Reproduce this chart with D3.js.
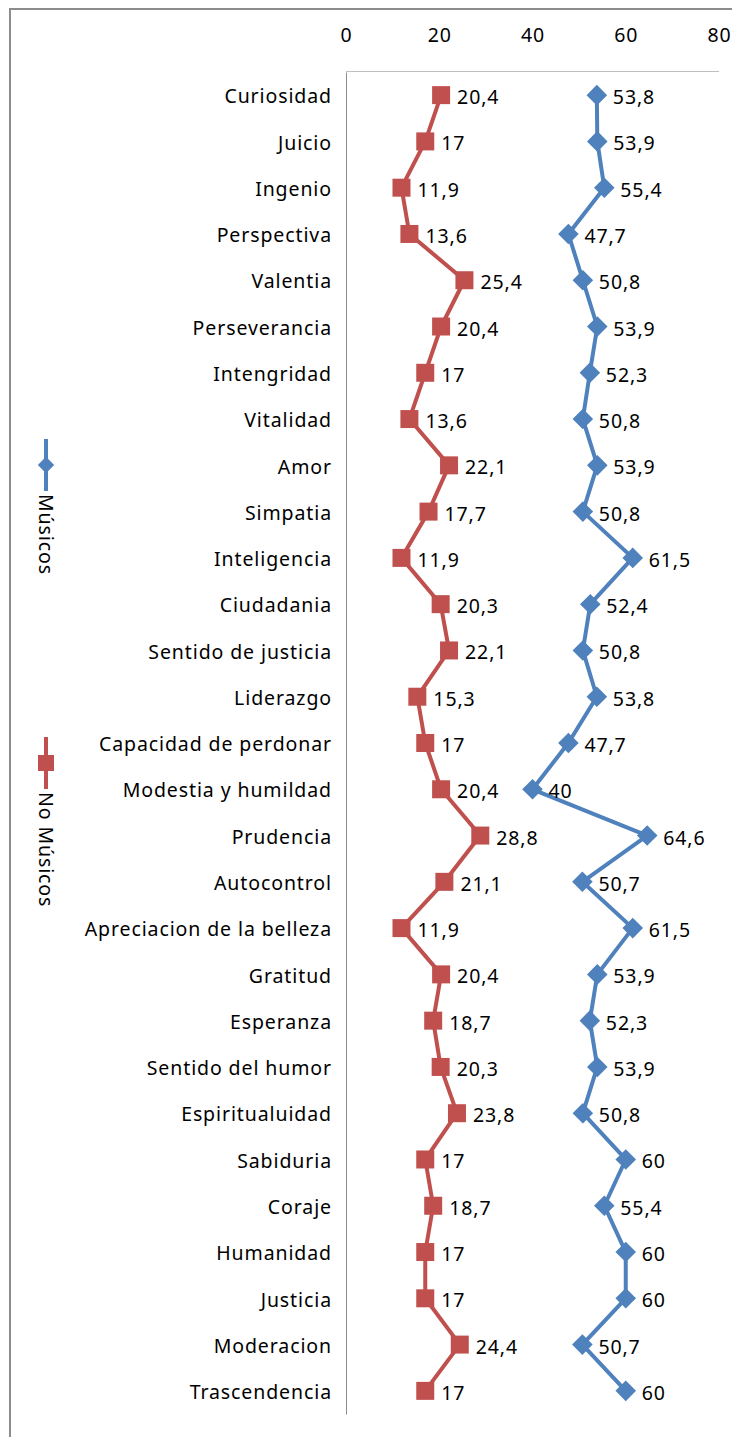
<!DOCTYPE html>
<html>
<head>
<meta charset="utf-8">
<script src="https://cdn.jsdelivr.net/npm/d3@7"></script>
<style>
  body { margin: 0; background: #fff; }
  svg { display: block; font-family: "Noto Sans", "Open Sans", sans-serif; }
</style>
</head>
<body>
<div id="chart"></div>
<script>
// ===== DATA =====
const categories = [
  "Curiosidad", "Juicio", "Ingenio", "Perspectiva", "Valentia", "Perseverancia",
  "Intengridad", "Vitalidad", "Amor", "Simpatia", "Inteligencia", "Ciudadania",
  "Sentido de justicia", "Liderazgo", "Capacidad de perdonar", "Modestia y humildad",
  "Prudencia", "Autocontrol", "Apreciacion de la belleza", "Gratitud", "Esperanza",
  "Sentido del humor", "Espiritualuidad", "Sabiduria", "Coraje", "Humanidad",
  "Justicia", "Moderacion", "Trascendencia"
];
const musicos = [
  53.8, 53.9, 55.4, 47.7, 50.8, 53.9, 52.3, 50.8, 53.9, 50.8, 61.5, 52.4, 50.8, 53.8,
  47.7, 40, 64.6, 50.7, 61.5, 53.9, 52.3, 53.9, 50.8, 60, 55.4, 60, 60, 50.7, 60
];
const noMusicos = [
  20.4, 17, 11.9, 13.6, 25.4, 20.4, 17, 13.6, 22.1, 17.7, 11.9, 20.3, 22.1, 15.3,
  17, 20.4, 28.8, 21.1, 11.9, 20.4, 18.7, 20.3, 23.8, 17, 18.7, 17, 17, 24.4, 17
];
const xTicks = [0, 20, 40, 60, 80];
const seriesNames = ["Músicos", "No Músicos"];

// ===== SETUP =====
const width = 732, height = 1437;
const blue = "#4F81BD", red = "#C0504D";
const fontSize = 19.5, spacing = "0.9px";
const fmt = v => String(v).replace(".", ",");

const svg = d3.select("#chart").append("svg")
  .attr("width", width)
  .attr("height", height);

// outer chart border (only top + left visible)
svg.append("path")
  .attr("d", "M10,1437 V9 H732")
  .attr("fill", "none")
  .attr("stroke", "#8c8c8c")
  .attr("stroke-width", 2);

const x = d3.scaleLinear().domain([0, 80]).range([346, 719]);
const y = d3.scaleBand().domain(categories).range([72, 1414]).padding(0);
const cy = c => y(c) + y.bandwidth() / 2;

// plot area top line
svg.append("line")
  .attr("x1", x(0)).attr("x2", x(80))
  .attr("y1", 71.5).attr("y2", 71.5)
  .attr("stroke", "#bfbfbf").attr("stroke-width", 1);

// top value axis
const xAxis = svg.append("g")
  .attr("transform", "translate(0,42)")
  .call(d3.axisTop(x).tickValues(xTicks).tickSize(0).tickPadding(0));
xAxis.select(".domain").remove();
xAxis.selectAll("text")
  .attr("font-size", fontSize)
  .attr("font-family", "Noto Sans")
  .attr("letter-spacing", spacing)
  .attr("fill", "#000");

// left category axis
const yAxis = svg.append("g")
  .attr("transform", `translate(${x(0)},0)`)
  .call(d3.axisLeft(y).tickSize(0).tickPadding(14));
yAxis.select(".domain")
  .attr("stroke", "#8c8c8c");
yAxis.selectAll("text")
  .attr("font-size", fontSize)
  .attr("font-family", "Noto Sans")
  .attr("letter-spacing", spacing)
  .attr("dy", "0.42em")
  .attr("fill", "#000");

// ===== SERIES =====
const line = d3.line()
  .x(d => x(d.v))
  .y(d => cy(d.c));

const markerSize = shape => shape === d3.symbolSquare ? 324 : 270;

function drawSeries(values, color, shape) {
  const pts = values.map((v, i) => ({ v, c: categories[i] }));

  svg.append("path")
    .datum(pts)
    .attr("d", line)
    .attr("fill", "none")
    .attr("stroke", color)
    .attr("stroke-width", 4)
    .attr("stroke-linejoin", "round");

  const sym = d3.symbol().type(shape).size(markerSize(shape));
  svg.selectAll(null)
    .data(pts)
    .enter()
    .append("path")
    .attr("d", sym)
    .attr("transform", d => `translate(${x(d.v)},${cy(d.c)})`)
    .attr("fill", color);

  svg.selectAll(null)
    .data(pts)
    .enter()
    .append("text")
    .attr("x", d => x(d.v) + 16)
    .attr("y", d => cy(d.c) + 9)
    .attr("font-size", fontSize)
    .attr("letter-spacing", spacing)
    .attr("fill", "#000")
    .text(d => fmt(d.v));
}

drawSeries(noMusicos, red, d3.symbolSquare);
drawSeries(musicos, blue, d3.symbolDiamond2);

// ===== LEGEND (vertical) =====
function legendItem(top, color, shape, label) {
  const g = svg.append("g").attr("transform", `translate(46,${top})`);
  g.append("line")
    .attr("x1", 0).attr("x2", 0)
    .attr("y1", 0).attr("y2", 52)
    .attr("stroke", color).attr("stroke-width", 4);
  const sym = d3.symbol().type(shape).size(shape === d3.symbolSquare ? 256 : 170);
  g.append("path")
    .attr("d", sym)
    .attr("transform", "translate(0,26)")
    .attr("fill", color);
  g.append("text")
    .attr("transform", "translate(-7,55) rotate(90)")
    .attr("font-size", fontSize)
    .attr("letter-spacing", spacing)
    .attr("fill", "#000")
    .text(label);
}

legendItem(439, blue, d3.symbolDiamond2, seriesNames[0]);
legendItem(737, red, d3.symbolSquare, seriesNames[1]);
</script>
</body>
</html>
